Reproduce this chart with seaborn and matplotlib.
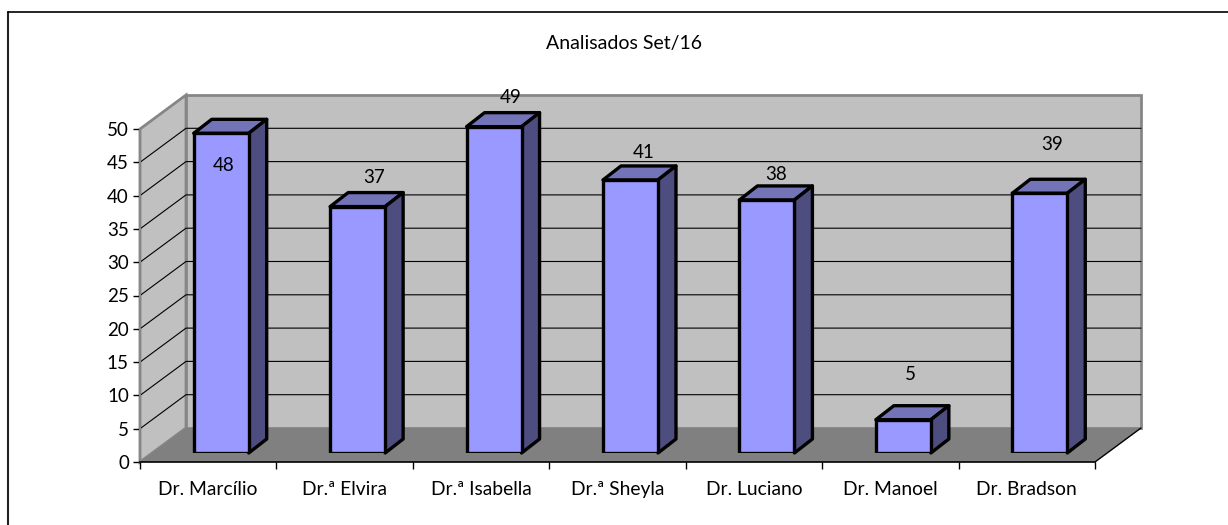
import matplotlib
matplotlib.use("Agg")
import matplotlib.pyplot as plt
from matplotlib.patches import Polygon, Rectangle
import pandas as pd
import seaborn as sns

# Data
doctors = ["Dr. Marcílio", "Dr.ª Elvira", "Dr.ª Isabella", "Dr.ª Sheyla",
           "Dr. Luciano", "Dr. Manoel", "Dr. Bradson"]
analisados = [48, 37, 49, 41, 38, 5, 39]
y_ticks = [0, 5, 10, 15, 20, 25, 30, 35, 40, 45, 50]

W, H = 1228, 525
# front plane of the fake 3d box, in pixels from top left
X0, X1, Y0, Y1 = 140, 1095, 462, 129
DX, DY = 46, 34      # box depth
BX, BY = 13, 9       # bars sit a bit inside the box
SX, SY = 18, 14      # bar depth


def axes_rect(x0, x1, y0, y1):
    return [x0 / W, 1 - y0 / H, (x1 - x0) / W, (y0 - y1) / H]


sns.set_theme(style="white")
plt.rcParams["font.family"] = ["Lato", "DejaVu Sans"]

fig = plt.figure(figsize=(W / 100, H / 100), dpi=100, facecolor="white")

# Background layer in pixels, for the frame and the box
bg = fig.add_axes([0, 0, 1, 1], zorder=0)
bg.set_xlim(0, W)
bg.set_ylim(H, 0)
bg.axis("off")
# the frame runs off the right and bottom of the picture
bg.plot([8, 8], [H, 12], color="#222222", lw=1.5)
bg.plot([8, W], [12, 12], color="black", lw=1.2)

grey_edge = "#868686"
bg.add_patch(Polygon([(X0, Y0), (X0 + DX, Y0 - DY), (X0 + DX, Y1 - DY), (X0, Y1)],
                     fc="#c0c0c0", ec=grey_edge, lw=2))
bg.add_patch(Rectangle((X0 + DX, Y1 - DY), X1 - X0, Y0 - Y1, fc="#c0c0c0", ec=grey_edge, lw=2))
bg.add_patch(Polygon([(X0, Y0), (X0 + DX, Y0 - DY), (X1 + DX, Y0 - DY), (X1, Y0)],
                     fc="#808080", ec="none"))
bg.plot([X1, X1 + DX], [Y0, Y0 - DY], color="black", lw=1)

# Axis on the front plane
ax = fig.add_axes(axes_rect(X0, X1, Y0, Y1), zorder=1)
ax.patch.set_alpha(0)
ax.set_xlim(0, len(doctors))
ax.set_ylim(0, 50)
ax.set_yticks(y_ticks)
ax.set_xticks(range(len(doctors) + 1))
ax.set_xticklabels([])
ax.tick_params(axis="both", direction="out", length=5, width=1, color="black",
               left=True, bottom=True, labelsize=13.5, pad=3, labelcolor="black")
for name in ["top", "right"]:
    ax.spines[name].set_visible(False)
ax.spines["left"].set_color(grey_edge)
ax.spines["left"].set_linewidth(1.5)
ax.spines["bottom"].set_color("black")
ax.spines["bottom"].set_linewidth(1.2)
for i, name in enumerate(doctors):
    ax.text(i + 0.5, -4.15, name, ha="center", va="center", fontsize=13.9, color="black")

# Gridlines go across the side wall and the back wall
unit = (Y0 - Y1) / 50
for t in y_ticks[1:-1]:
    y = Y0 - t * unit
    bg.plot([X0, X0 + DX, X1 + DX], [y, y - DY, y - DY], color="black", lw=0.8)

# Bars, slightly inside the box
bar_ax = fig.add_axes(axes_rect(X0 + BX, X1 + BX, Y0 - BY, Y1 - BY), zorder=2)
bar_ax.patch.set_alpha(0)
df = pd.DataFrame({"doctor": doctors, "analisados": analisados})
sns.barplot(data=df, x="doctor", y="analisados", color="#9999ff", saturation=1,
            width=0.403, edgecolor="black", linewidth=2.4, ax=bar_ax)
bar_ax.set_xlim(-0.5, len(doctors) - 0.5)
bar_ax.set_ylim(0, 50)
bar_ax.axis("off")

# Depth faces taken from the bars that seaborn drew
for patch, v in zip(bar_ax.patches, analisados):
    x, y = bar_ax.transData.transform((patch.get_x(), 0))
    x2, y2 = bar_ax.transData.transform((patch.get_x() + patch.get_width(), v))
    left, right = x, x2
    bottom, top = H - y, H - y2
    bg.add_patch(Polygon([(left, top), (left + SX, top - SY), (right + SX, top - SY), (right, top)],
                         fc="#7373b8", ec="black", lw=2.4, zorder=5, joinstyle="round"))
    bg.add_patch(Polygon([(right, top), (right + SX, top - SY), (right + SX, bottom - SY), (right, bottom)],
                         fc="#4d4d80", ec="black", lw=2.4, zorder=5, joinstyle="round"))

# Value labels, placed the way the original has them
label_dx = [0.02, 0.12, 0.12, 0.10, 0.07, 0.05, 0.09]
label_dy = [-4.9, 4.3, 4.4, 4.1, 3.8, 6.8, 7.3]
for i, v in enumerate(analisados):
    bar_ax.text(i + label_dx[i], v + label_dy[i], str(v), ha="center", va="center",
                fontsize=13.5, color="black")

fig.text(624 / W, 1 - 43.5 / H, "Analisados Set/16", ha="center", va="center",
         fontsize=14, color="black")

fig.savefig("out.png", dpi=100)
